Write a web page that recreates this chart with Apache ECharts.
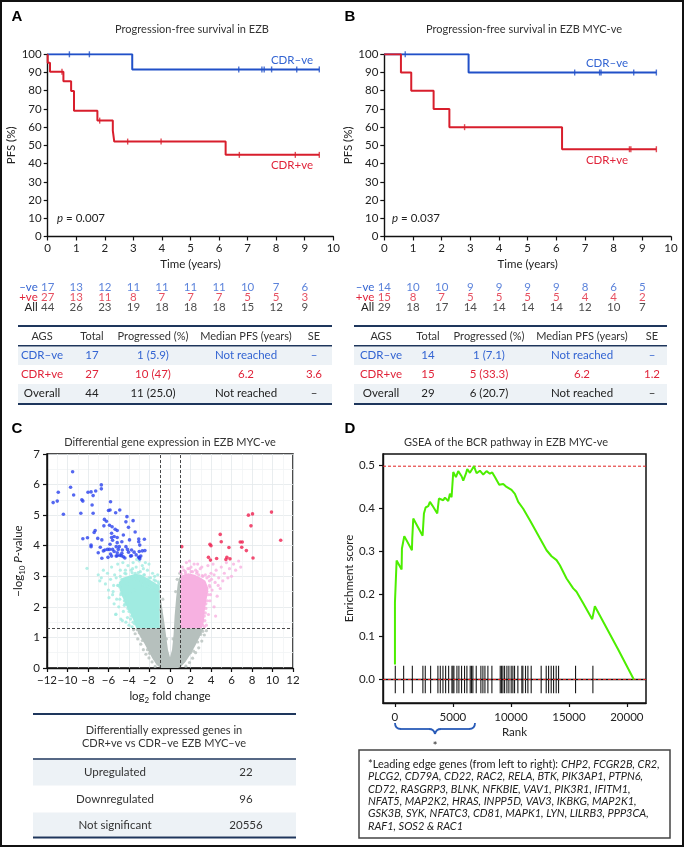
<!DOCTYPE html>
<html>
<head>
<meta charset="utf-8">
<title>EZB CDR survival, DGE and GSEA</title>
<script src="https://cdn.jsdelivr.net/npm/echarts@6/dist/echarts.min.js"></script>
<style>
html, body { margin: 0; padding: 0; background: #fff; }
#chart { width: 684px; height: 847px; }
</style>
</head>
<body>
<div id="chart"></div>
<script>
// ---------- A / B : Kaplan-Meier (year, PFS %) ----------
const kmYears = [0, 1, 2, 3, 4, 5, 6, 7, 8, 9];
const ezbNeg = [[0, 100], [2.96, 91.7], [9.51, 91.7]];
const ezbNegCensor = [[0.76, 100], [1.46, 100], [6.69, 91.7], [7.5, 91.7], [7.58, 91.7], [7.84, 91.7], [8.72, 91.7], [9.51, 91.7]];
const ezbPos = [[0, 100], [0, 95.3], [0.08, 90.4], [0.55, 85.2], [0.82, 79.9], [0.92, 69], [1.74, 63.6], [2.28, 58.1], [2.33, 52.1], [6.23, 44.8], [9.51, 44.8]];
const ezbPosCensor = [[0.5, 90.4], [1.82, 63.6], [2.8, 52.1], [3.97, 52.1], [6.71, 44.8], [8.67, 44.8], [9.51, 44.8]];
const mycNeg = [[0, 100], [2.94, 90], [9.49, 90]];
const mycNegCensor = [[0.73, 100], [6.64, 90], [7.51, 90], [7.56, 90], [8.7, 90], [9.49, 90]];
const mycPos = [[0, 100], [0.58, 90], [0.94, 80], [1.72, 70], [2.27, 60], [6.2, 47.9], [9.49, 47.9]];
const mycPosCensor = [[2.8, 60], [8.55, 47.9], [8.6, 47.9], [9.49, 47.9]];

// numbers at risk
const riskRows = ['–ve', '+ve', 'All'];
const riskA_neg = [17, 13, 12, 11, 11, 11, 11, 10, 7, 6];
const riskA_pos = [27, 13, 11, 8, 7, 7, 7, 5, 5, 3];
const riskA_all = [44, 26, 23, 19, 18, 18, 18, 15, 12, 9];
const riskB_neg = [14, 10, 10, 9, 9, 9, 9, 8, 6, 5];
const riskB_pos = [15, 8, 7, 5, 5, 5, 5, 4, 4, 2];
const riskB_all = [29, 18, 17, 14, 14, 14, 14, 12, 10, 7];

// summary tables
const pfsHeader = ['AGS', 'Total', 'Progressed (%)', 'Median PFS (years)', 'SE'];
const pfsRowsA = [
  ['CDR–ve', '17', '1 (5.9)', 'Not reached', '–'],
  ['CDR+ve', '27', '10 (47)', '6.2', '3.6'],
  ['Overall', '44', '11 (25.0)', 'Not reached', '–']
];
const pfsRowsB = [
  ['CDR–ve', '14', '1 (7.1)', 'Not reached', '–'],
  ['CDR+ve', '15', '5 (33.3)', '6.2', '1.2'],
  ['Overall', '29', '6 (20.7)', 'Not reached', '–']
];

// ---------- C : volcano (log2 FC, -log10 p) ----------
const volcanoDown = [
  [-9.5,6.42],[-9.7,5.91],[-10.9,5.75],[-9.4,5.66],[-11.0,5.46],[-11.4,5.41],[-10.4,5.03],[-8.6,5.50],[-8.5,5.46],[-8.0,5.75],
  [-7.7,5.76],[-7.25,5.79],[-7.5,5.64],[-6.7,5.99],[-6.7,5.86],[-5.8,5.44],[-7.6,5.33],[-7.5,5.06],[-8.7,5.06],[-6.0,5.15],
  [-5.85,5.17],[-4.9,5.17],[-5.3,5.08],[-4.2,4.95],[-6.4,4.86],[-6.2,4.80],[-4.3,4.78],[-3.6,4.82],[-6.45,4.65],[-5.9,4.67],
  [-5.65,4.62],[-5.35,4.54],[-5.15,4.50],[-7.3,4.50],[-7.4,4.43],[-5.7,4.41],[-4.05,4.60],[-4.55,4.35],[-7.05,4.24],[-8.05,4.26],
  [-8.5,4.23],[-6.65,4.19],[-5.7,4.27],[-5.45,4.30],[-5.15,4.27],[-4.7,4.13],[-3.95,4.19],[-3.05,4.22],[-2.5,4.21],[-7.7,4.02],
  [-7.7,3.97],[-5.6,4.18],[-5.15,4.10],[-5.85,4.05],[-4.95,3.97],[-4.3,3.97],[-7.0,3.77],[-6.5,3.83],[-6.35,3.86],[-6.1,3.88],
  [-5.9,3.88],[-5.6,3.88],[-5.25,3.97],[-5.05,3.88],[-5.45,3.81],[-4.65,3.86],[-4.15,3.88],[-3.75,3.86],[-3.5,3.79],[-3.0,3.81],
  [-2.7,3.83],[-2.45,3.84],[-2.95,4.02],[-3.05,4.13],[-6.65,3.59],[-5.7,3.66],[-5.25,3.66],[-4.9,3.69],[-4.55,3.64],[-3.85,3.66],
  [-3.05,3.62],[-2.85,3.66],[-5.15,3.77],[-5.8,3.73],[-4.7,3.75],[-4.05,3.79],[-5.15,3.67],[-4.75,3.67],[-3.75,3.67],[-3.0,3.62],
  [-2.95,3.57],[-6.05,3.62],[-4.4,3.6],[-3.3,3.7],[-6.8,3.95],[-3.4,4.45]
];
const volcanoUp = [
  [1.15,3.97],[4.9,4.37],[5.0,4.13],[3.9,4.05],[4.0,4.0],[5.75,3.94],[6.85,4.12],[7.05,4.12],[7.0,3.95],[7.45,3.84],[7.65,5.0],
  [8.05,5.04],[7.9,4.65],[9.9,5.10],[10.8,4.18],[3.75,3.62],[4.55,3.58],[5.55,3.62],[5.85,3.57],[8.1,3.60],[3.95,3.53],[5.45,3.55]
];
// dense clouds: outline of the packed core + loose points around it
const grayCore = [
  [-0.9,0],[-1.3,0.1],[-1.7,0.3],[-2.1,0.55],[-2.5,0.8],[-2.9,1.02],[-3.3,1.3],[-1.0,1.3],[-1.0,2.4],[-0.85,2.15],
  [-0.6,1.6],[-0.4,1.1],[-0.2,0.6],[0,0.35],[0.2,0.6],[0.35,1.1],[0.45,1.7],[0.6,2.3],[0.75,2.75],[0.9,2.98],
  [1.0,2.95],[1.0,1.3],[3.3,1.3],[2.9,1.02],[2.5,0.75],[2.0,0.45],[1.5,0.2],[1.1,0.05],[0.8,0]
];
const grayLoose = [
  [-3.55,1.25],[-3.4,1.12],[-3.15,0.95],[-2.85,0.78],[-2.6,0.6],[-2.35,0.45],[-2.05,0.33],[-1.75,0.2],[-1.45,0.05],[3.55,1.22],
  [3.35,1.08],[3.1,0.88],[2.8,0.66],[2.5,0.5],[2.2,0.32],[1.9,0.18],[1.55,0.06],[-0.95,2.5],[0.95,3.1],[-0.7,2.25],[0.7,2.9],
  [-3.0,1.15],[-2.2,0.6],[2.3,0.55],[3.0,1.1],[-1.2,0.2],[1.3,0.22],[-3.2,1.25],[-2.7,0.9],[-2.0,0.48],[2.7,0.85],
  [3.2,1.2],[2.0,0.5],[-0.9,1.9],[0.55,2.5],[-0.35,0.95],[0.3,0.95]
];
const cyanCore = [
  [-1.0,1.3],[-3.3,1.3],[-3.55,1.55],[-3.9,1.8],[-4.3,2.05],[-4.6,2.3],[-4.9,2.55],[-5.0,2.8],[-4.6,2.95],
  [-4.0,3.02],[-3.4,3.08],[-2.8,3.05],[-2.3,2.95],[-1.8,2.85],[-1.3,2.75],[-1.0,2.7]
];
const cyanLoose = [
  [-8.1,3.26],[-7.0,3.05],[-6.7,2.95],[-6.5,3.2],[-6.3,2.75],[-6.1,3.1],[-6.0,2.55],[-5.8,2.9],[-5.7,3.3],[-5.6,2.4],
  [-5.5,2.7],[-5.4,3.05],[-5.3,1.75],[-5.2,2.25],[-5.1,3.4],[-5.0,2.0],[-4.9,2.65],[-4.85,3.2],[-4.8,1.6],[-4.7,2.9],
  [-4.6,3.45],[-4.55,1.85],[-4.5,2.35],[-4.4,3.1],[-4.3,1.5],[-4.2,2.75],[-4.1,3.35],[-4.0,1.4],[-3.95,2.95],[-3.8,3.2],
  [-3.7,1.35],[-3.6,3.45],[-3.5,2.9],[-3.4,3.1],[-3.3,3.3],[-3.1,2.95],[-3.0,3.5],[-2.9,3.15],[-2.8,2.85],[-2.7,3.35],
  [-2.6,2.7],[-2.5,3.05],[-2.4,3.45],[-2.3,2.9],[-2.2,3.2],[-2.1,2.65],[-1.9,2.95],[-1.8,2.6],[-1.7,3.1],[-1.6,2.75],
  [-1.5,2.55],[-1.4,2.85],[-1.3,2.6],[-1.2,2.45],[-1.1,2.75],[-5.27,1.76],[-4.65,1.55],[-4.45,2.05],[-3.9,2.45],[-3.45,2.55],
  [-4.15,1.65],[-5.45,2.1],[-3.25,3.55],[-2.05,3.4],[-6.85,2.85],[-5.95,2.3],[-1.5,3.0],[-1.2,3.05],[-2.6,3.25],[-3.65,3.25],
  [-4.35,3.2],[-5.25,2.95],[-5.55,2.5],[-3.85,1.6],[-4.9,2.25],[-5.1,2.7],[-3.45,1.45],[-3.75,1.7],[-4.1,1.95],[-4.45,2.2],
  [-4.75,2.45],[-5.05,2.7],[-4.85,3.0],[-4.3,3.08],[-3.7,3.12],[-3.1,3.12],[-2.55,3.05],[-2.05,2.95],[-1.55,2.88],[-1.15,2.82],
  [-3.6,1.5],[-4.0,1.85],[-4.4,2.1],[-4.8,2.4]
];
const pinkCore = [
  [1.0,1.3],[3.1,1.3],[3.3,1.5],[3.4,1.9],[3.6,2.3],[3.75,2.6],[3.45,2.85],[3.0,2.95],[2.4,3.05],[1.8,3.1],[1.3,3.05],[1.0,3.0]
];
const pinkLoose = [
  [1.05,3.15],[1.2,3.3],[1.35,3.2],[1.5,3.1],[1.6,3.45],[1.75,3.25],[1.9,3.25],[2.05,3.3],[2.2,3.15],[2.35,3.4],
  [2.5,3.2],[2.65,3.15],[2.8,3.05],[2.95,3.25],[3.1,3.3],[3.2,3.0],[3.3,2.75],[3.4,1.55],[3.45,3.05],[3.5,1.95],
  [3.6,2.5],[3.7,3.35],[3.75,1.75],[3.85,2.85],[3.9,2.2],[4.0,3.1],[4.1,2.55],[4.2,3.4],[4.3,2.0],[4.4,2.8],
  [4.5,3.2],[4.6,2.35],[4.75,2.95],[4.9,2.6],[5.0,3.3],[5.15,2.85],[5.3,3.1],[5.5,3.45],[5.65,2.95],[5.8,3.25],
  [6.0,3.0],[6.2,3.4],[6.4,3.2],[6.7,3.5],[6.9,3.3],[3.55,1.4],[3.35,1.35],[3.9,2.65],[4.45,1.7],[4.05,2.9],
  [3.8,3.0],[4.3,3.05],[3.95,2.4],[4.7,2.7],[2.7,3.4],[1.9,3.5],[3.2,1.4],[3.35,1.7],[3.5,2.1],[3.7,2.4],
  [3.85,2.7],[3.6,2.95],[3.15,3.02],[2.6,3.1],[2.05,3.15],[1.5,3.15],[1.1,3.08],[3.45,1.8],[3.65,2.2]
];
const degLabels = ['Upregulated', 'Downregulated', 'Not significant'];
const degCounts = [22, 96, 20556];

// ---------- D : GSEA running enrichment score ----------
const gseaRank = [0, 0, 86, 144, 575, 603, 805, 1465, 1494, 1580, 2385, 2500, 2644, 2873, 3017, 3218, 3649, 3793, 4166, 4310,
  4597, 4741, 4885, 5028, 5258, 5459, 5747, 5890, 6120, 6235, 6465, 6810, 7040, 7327, 7614, 7902, 8189, 8390, 8620, 8993,
  9338, 9625, 10056, 10344, 10631, 11062, 11637, 12499, 13074, 13505, 13936, 14223, 14798, 15373, 15660, 16235, 17011, 17240, 19251, 20600];
const gseaES = [0.035, 0.18, 0.177, 0.278, 0.257, 0.306, 0.335, 0.302, 0.33, 0.376, 0.336, 0.388, 0.402, 0.405, 0.415, 0.407, 0.388, 0.423, 0.419, 0.425,
  0.417, 0.434, 0.426, 0.485, 0.473, 0.487, 0.475, 0.465, 0.481, 0.492, 0.483, 0.4985, 0.482, 0.488, 0.479, 0.487, 0.481, 0.484, 0.473, 0.455,
  0.457, 0.45, 0.443, 0.434, 0.415, 0.399, 0.372, 0.33, 0.302, 0.288, 0.279, 0.267, 0.236, 0.213, 0.205, 0.178, 0.141, 0.171, 0.07, 0.0];
const gseaHits = [30, 750, 1500, 2410, 2615, 3075, 3705, 3910, 4140, 4370, 4630, 4915, 5000, 5085, 5345, 5515, 5745, 6000, 6205, 6490,
  6605, 6720, 7010, 7410, 7585, 7760, 8015, 8360, 9080, 9195, 9310, 9455, 9655, 9825, 10025, 10170, 10315, 10600, 10945, 11030,
  11260, 11465, 11750, 12610, 13045, 13250, 13475, 13680, 13905, 14110, 15575, 17070];
const rankTicks = [0, 5000, 10000, 15000, 20000];
const esTicks = [0, 0.1, 0.2, 0.3, 0.4, 0.5];
const leadingEdgeLines = [
  'CHP2, FCGR2B, CR2,',
  'PLCG2, CD79A, CD22, RAC2, RELA, BTK, PIK3AP1, PTPN6,',
  'CD72, RASGRP3, BLNK, NFKBIE, VAV1, PIK3R1, IFITM1,',
  'NFAT5, MAP2K2, HRAS, INPP5D, VAV3, IKBKG, MAP2K1,',
  'GSK3B, SYK, NFATC3, CD81, MAPK1, LYN, LILRB3, PPP3CA,',
  'RAF1, SOS2 & RAC1'
];

// ---------- styles ----------
const FONT = 'Lato, "Open Sans", sans-serif';
const BLUE = '#2150c8';
const RED = '#d81e2c';
const BLUE_TXT = '#3364d2';
const RED_TXT = '#e0243a';
const INK = '#222';
const NAVY = '#1e365c';
const SHADE = '#edf2f6';
const RANK_MIN = -1030, RANK_MAX = 21650;

function valAxis(grid, o) {
  return Object.assign({
    gridIndex: grid, type: 'value',
    axisLine: { show: true, onZero: false, lineStyle: { color: '#111', width: 1.4 } },
    axisTick: { show: true, length: 4, lineStyle: { color: '#111', width: 1.2 } },
    axisLabel: { color: INK, fontSize: 11.5, fontFamily: FONT, margin: 6 },
    splitLine: { show: false },
    nameLocation: 'middle',
    nameTextStyle: { color: INK, fontSize: 11.5, fontFamily: FONT }
  }, o);
}

const chart = echarts.init(document.getElementById('chart'), null, { renderer: 'canvas' });

const series = [];
function km(data, censor, color, gi) {
  series.push({ type: 'line', xAxisIndex: gi, yAxisIndex: gi, data: data, step: 'end', showSymbol: false,
    lineStyle: { color: color, width: 2 }, itemStyle: { color: color }, z: 3, silent: true });
  series.push({ type: 'scatter', xAxisIndex: gi, yAxisIndex: gi, data: censor, symbol: 'rect', symbolSize: [1.4, 6],
    itemStyle: { color: color }, z: 4, silent: true });
}
km(ezbNeg, ezbNegCensor, BLUE, 0);
km(ezbPos, ezbPosCensor, RED, 0);
km(mycNeg, mycNegCensor, BLUE, 1);
km(mycPos, mycPosCensor, RED, 1);

function risk(values, row, color, gi) {
  series.push({ type: 'scatter', xAxisIndex: gi, yAxisIndex: gi, silent: true,
    data: values.map((n, i) => [kmYears[i], row, n]), symbolSize: 1, itemStyle: { color: 'transparent' },
    label: { show: true, position: 'inside', formatter: p => p.value[2], color: color, fontSize: 11.5, fontFamily: FONT } });
}
risk(riskA_neg, riskRows[0], BLUE_TXT, 2);
risk(riskA_pos, riskRows[1], RED_TXT, 2);
risk(riskA_all, riskRows[2], INK, 2);
risk(riskB_neg, riskRows[0], BLUE_TXT, 3);
risk(riskB_pos, riskRows[1], RED_TXT, 3);
risk(riskB_all, riskRows[2], INK, 3);

// volcano
function cloud(points, color) {
  series.push({ type: 'custom', xAxisIndex: 4, yAxisIndex: 4, silent: true, z: 1, data: [[0, 0]],
    renderItem: (params, api) => ({ type: 'polygon', shape: { points: points.map(p => api.coord(p)) }, style: { fill: color } }) });
}
function dots(points, color, size, z, extra) {
  series.push(Object.assign({ type: 'scatter', xAxisIndex: 4, yAxisIndex: 4, silent: true, z: z, data: points,
    symbolSize: size, itemStyle: { color: color } }, extra || {}));
}
const GRAY_PT = '#b6c0bd', CYAN_PT = '#a0ebe1', PINK_PT = '#f7b1e1';
cloud(grayCore, GRAY_PT);
cloud(cyanCore, CYAN_PT);
cloud(pinkCore, PINK_PT);
dots(grayLoose, GRAY_PT, 3.2, 1);
dots(cyanLoose, CYAN_PT, 3.2, 1);
dots(pinkLoose, PINK_PT, 3.2, 1);
dots(volcanoDown, '#2a42ee', 3.6, 3);
dots(volcanoUp, '#ef2050', 3.6, 3, {
  markLine: { silent: true, symbol: 'none', label: { show: false }, animation: false,
    lineStyle: { type: [3, 2], color: '#333', width: 0.9 },
    data: [{ xAxis: -1 }, { xAxis: 1 }, { yAxis: -Math.log10(0.05) }] }
});

// GSEA
series.push({ type: 'custom', xAxisIndex: 5, yAxisIndex: 5, silent: true, z: 2, data: gseaHits.map(r => [r, 0]),
  renderItem: (params, api) => {
    const a = api.coord([api.value(0), 0.032]);
    const b = api.coord([api.value(0), -0.032]);
    return { type: 'line', shape: { x1: a[0], y1: a[1], x2: b[0], y2: b[1] }, style: { stroke: '#1a1a1a', lineWidth: 1.1 } };
  }
});
function hRule(y, color, type, width, z) {
  series.push({ type: 'line', xAxisIndex: 5, yAxisIndex: 5, silent: true, z: z, showSymbol: false,
    data: [[RANK_MIN, y], [RANK_MAX, y]], lineStyle: { color: color, type: type, width: width } });
}
hRule(0, '#111', 'solid', 1.4, 3);
hRule(0, '#e02020', [3, 2], 1, 4);
hRule(Math.max(...gseaES), '#e02020', [3, 2], 1, 4);
series.push({ type: 'line', xAxisIndex: 5, yAxisIndex: 5, silent: true, z: 5, showSymbol: false,
  data: gseaRank.map((r, i) => [r, gseaES[i]]), lineStyle: { color: '#4cee00', width: 2 } });

// ---------- graphic: labels, tables, notes ----------
const g = [];
function txt(x, y, text, o) {
  g.push({ type: 'text', x: x, y: y, z: 10, silent: true,
    style: Object.assign({ text: text, fill: INK, fontSize: 11, fontFamily: FONT, align: 'center', verticalAlign: 'middle' }, o || {}) });
}
function seg(x1, y1, x2, y2, w, color) {
  g.push({ type: 'line', z: 9, silent: true, shape: { x1: x1, y1: y1, x2: x2, y2: y2 }, style: { stroke: color || NAVY, lineWidth: w } });
}
function hline(x1, x2, y, w, color) { seg(x1, y, x2, y, w, color); }
function curve(x1, y1, cx, cy, x2, y2, w, color) {
  g.push({ type: 'bezierCurve', z: 9, silent: true, shape: { x1: x1, y1: y1, x2: x2, y2: y2, cpx1: cx, cpy1: cy },
    style: { stroke: color, fill: null, lineWidth: w } });
}
function shade(x1, x2, y1, y2) {
  g.push({ type: 'rect', z: 1, silent: true, shape: { x: x1, y: y1, width: x2 - x1, height: y2 - y1 }, style: { fill: SHADE } });
}

g.push({ type: 'rect', z: 20, silent: true, shape: { x: 1, y: 1, width: 682, height: 845 }, style: { fill: 'none', stroke: '#111', lineWidth: 2 } });
[['A', 17, 17], ['B', 350, 17], ['C', 17, 429], ['D', 350, 429]].forEach(p =>
  txt(p[1], p[2], p[0], { fontSize: 15, fontWeight: 'bold', fontFamily: 'Arial, "Liberation Sans", sans-serif', fill: '#000' }));

txt(192, 29, 'Progression-free survival in EZB', { fill: '#333' });
txt(524, 29, 'Progression-free survival in EZB MYC-ve', { fill: '#333' });
txt(170, 442, 'Differential gene expression in EZB MYC-ve', { fill: '#333' });
txt(506, 442, 'GSEA of the BCR pathway in EZB MYC-ve', { fill: '#333' });

txt(292, 60, 'CDR–ve', { fill: BLUE_TXT, fontSize: 11.5 });
txt(292, 165, 'CDR+ve', { fill: RED_TXT, fontSize: 11.5 });
txt(607, 63, 'CDR–ve', { fill: BLUE_TXT, fontSize: 11.5 });
txt(607, 160, 'CDR+ve', { fill: RED_TXT, fontSize: 11.5 });
const pRich = { i: { fontStyle: 'italic', fontSize: 11.5, fontFamily: FONT, fill: INK }, n: { fontSize: 11.5, fontFamily: FONT, fill: INK } };
txt(57, 218, '{i|p}{n| = 0.007}', { align: 'left', rich: pRich });
txt(392, 218, '{i|p}{n| = 0.037}', { align: 'left', rich: pRich });

function pfsTable(x0, x1, colX, rows) {
  hline(x0, x1, 326, 2);
  pfsHeader.forEach((h, i) => txt(colX[i], 336, h, { fill: '#333' }));
  hline(x0, x1, 345.7, 1.5);
  const rowY = [355.3, 374.3, 393.3];
  const rowCol = [BLUE_TXT, RED_TXT, INK];
  shade(x0, x1, 346.4, 365);
  shade(x0, x1, 384, 403.2);
  rows.forEach((r, ri) => r.forEach((c, ci) => txt(colX[ci], rowY[ri], c, { fill: rowCol[ri], fontSize: 11.5 })));
  hline(x0, x1, 404, 2);
}
pfsTable(18, 332, [42, 92, 153, 246, 314], pfsRowsA);
pfsTable(354, 667, [381, 428, 489, 582, 652], pfsRowsB);

// DEG table under volcano
hline(33, 296, 714, 2);
txt(164, 730, 'Differentially expressed genes in', { fill: '#333' });
txt(164, 743, 'CDR+ve vs CDR–ve EZB MYC–ve', { fill: '#333' });
hline(33, 296, 759, 1.5);
shade(33, 296, 759.7, 785.5);
shade(33, 296, 812.5, 836.6);
const degY = [772.7, 799.5, 825.5];
degLabels.forEach((l, i) => { txt(115, degY[i], l, { fill: '#333', fontSize: 11.5 }); txt(246, degY[i], String(degCounts[i]), { fill: '#333', fontSize: 11.5 }); });
hline(33, 296, 837.5, 2);

// brace + leading edge note
const BRACE = '#2a5cb8';
curve(395, 723, 395, 729, 401, 729, 1.8, BRACE);
seg(401, 729, 429, 729, 1.8, BRACE);
curve(429, 729, 434, 729, 435, 734, 1.8, BRACE);
curve(435, 734, 436, 729, 441, 729, 1.8, BRACE);
seg(441, 729, 469, 729, 1.8, BRACE);
curve(469, 729, 475, 729, 475, 723, 1.8, BRACE);
txt(435, 746, '*', { fontSize: 11 });
g.push({ type: 'rect', z: 9, silent: true, shape: { x: 359, y: 750, width: 311, height: 88 }, style: { fill: '#fff', stroke: '#444', lineWidth: 1.5 } });
const noteText = '{n|*Leading edge genes (from left to right): }{i|' + leadingEdgeLines[0] + '}\n' +
  leadingEdgeLines.slice(1).map(l => '{i|' + l + '}').join('\n');
txt(368, 758, noteText, { align: 'left', verticalAlign: 'top', lineHeight: 12.4,
  rich: { n: { fontSize: 11, fontFamily: FONT, fill: INK, lineHeight: 12.4 },
          i: { fontSize: 11, fontFamily: FONT, fontStyle: 'italic', fill: INK, lineHeight: 12.4 } } });

const subRich = {
  a: { fontSize: 11.5, fontFamily: FONT, color: INK, lineHeight: 15 },
  s: { fontSize: 8, fontFamily: FONT, color: INK, lineHeight: 8, verticalAlign: 'bottom' },
  i: { fontSize: 11.5, fontFamily: FONT, color: INK, fontStyle: 'italic', lineHeight: 15 }
};
const riskAxisLabel = { interval: 0, margin: 10, fontSize: 11.5, fontFamily: FONT, color: (v, i) => [BLUE_TXT, RED_TXT, INK][i] };

const option = {
  animation: false,
  backgroundColor: '#fff',
  grid: [
    { left: 47.7, top: 54.3, width: 285.6, height: 182.2 },
    { left: 384.3, top: 54.3, width: 286.7, height: 182.2 },
    { left: 47.7, top: 282, width: 285.6, height: 30 },
    { left: 384.3, top: 282, width: 286.7, height: 30 },
    { left: 47, top: 454, width: 246, height: 214, show: true, borderColor: '#111', borderWidth: 1.5 },
    { left: 383, top: 454, width: 263, height: 249, show: true, borderColor: '#111', borderWidth: 1.5 }
  ],
  xAxis: [
    valAxis(0, { min: 0, max: 10, interval: 1, name: 'Time (years)', nameGap: 22 }),
    valAxis(1, { min: 0, max: 10, interval: 1, name: 'Time (years)', nameGap: 22 }),
    { gridIndex: 2, type: 'value', min: 0, max: 10, show: false },
    { gridIndex: 3, type: 'value', min: 0, max: 10, show: false },
    valAxis(4, { min: -12, max: 12, interval: 2, name: '{a|log}{s|2}{a| fold change}', nameGap: 21,
      nameTextStyle: { rich: subRich },
      axisLabel: { color: INK, fontSize: 11.5, fontFamily: FONT, margin: 6, formatter: v => String(v).replace('-', '−') },
      splitLine: { show: true, lineStyle: { color: '#e3e9eb', width: 0.8 } },
      minorTick: { show: false, splitNumber: 2 },
      minorSplitLine: { show: true, lineStyle: { color: '#f1f4f5', width: 0.8 } } }),
    valAxis(5, { min: RANK_MIN, max: RANK_MAX, name: 'Rank', nameGap: 23,
      axisLabel: { color: INK, fontSize: 11.5, fontFamily: FONT, margin: 8, customValues: rankTicks, formatter: v => String(v) },
      axisTick: { show: true, length: 4, lineStyle: { color: '#111', width: 1.2 }, customValues: rankTicks } })
  ],
  yAxis: [
    valAxis(0, { min: 0, max: 100, interval: 10, name: 'PFS (%)', nameGap: 27 }),
    valAxis(1, { min: 0, max: 100, interval: 10, name: 'PFS (%)', nameGap: 27 }),
    { gridIndex: 2, type: 'category', data: riskRows, inverse: true, axisLine: { show: false }, axisTick: { show: false }, axisLabel: riskAxisLabel },
    { gridIndex: 3, type: 'category', data: riskRows, inverse: true, axisLine: { show: false }, axisTick: { show: false }, axisLabel: riskAxisLabel },
    valAxis(4, { min: 0, max: 7, interval: 1, name: '{a|−log}{s|10}{i| P}{a|-value}', nameGap: 21,
      nameTextStyle: { rich: subRich },
      axisLabel: { color: INK, fontSize: 11.5, fontFamily: FONT, margin: 7 },
      splitLine: { show: true, lineStyle: { color: '#e3e9eb', width: 0.8 } },
      minorTick: { show: false, splitNumber: 2 },
      minorSplitLine: { show: true, lineStyle: { color: '#f1f4f5', width: 0.8 } } }),
    valAxis(5, { min: -0.055, max: 0.527, name: 'Enrichment score', nameGap: 27,
      axisLabel: { color: INK, fontSize: 11.5, fontFamily: FONT, margin: 8, customValues: esTicks, formatter: v => v.toFixed(1) },
      axisTick: { show: true, length: 4, lineStyle: { color: '#111', width: 1.2 }, customValues: esTicks } })
  ],
  series: series,
  graphic: g
};
chart.setOption(option);
</script>
</body>
</html>
